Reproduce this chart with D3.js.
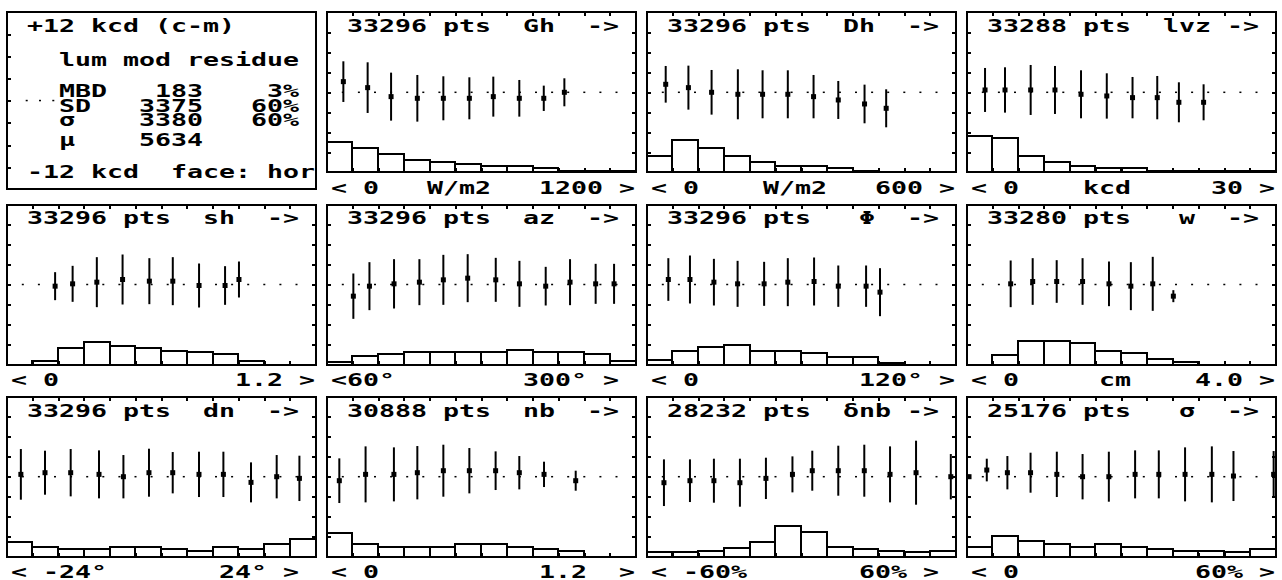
<!DOCTYPE html>
<html>
<head>
<meta charset="utf-8">
<script src="https://cdn.jsdelivr.net/npm/d3@7"></script>
<style>
  body { margin: 0; background: #fff; }
  svg { display: block; }
  text.mono {
    font-family: "DejaVu Sans Mono", monospace;
    font-weight: bold;
    font-size: 17px;
    white-space: pre;
    fill: #000;
  }
</style>
</head>
<body>
<svg id="chart" width="1282" height="580"></svg>
<script>
// ---- data ----
const varNames = ['Gh', 'Dh', 'lvz', 'sh', 'az', 'Φ', 'w', 'dn', 'nb', 'δnb', 'σ'];
const pointCounts = [33296, 33296, 33288, 33296, 33296, 33296, 33280, 33296, 30888, 28232, 25176];
const xDomains = [
  [0, 1200], [0, 600], [0, 30], [-0.1, 1.1], [60, 300], [0, 120],
  [-0.4, 4.4], [-24, 24], [0, 1.2], [-60, 60], [0, 60]
];
const axisLabels = [
  '< 0   W/m2   1200 >',
  '< 0    W/m2   600 >',
  '< 0    kcd     30 >',
  '< 0           1.2 >',
  '<60°        300° >',
  '< 0          120° >',
  '< 0     cm    4.0 >',
  '< -24°       24° >',
  '< 0          1.2  >',
  '< -60%       60% >',
  '< 0           60% >'
];

// mean x of the points in each bin (panel units)
const binX = [
  [64.7, 159, 250, 352, 453, 554, 647, 748, 843, 923],
  [36.9, 81, 126, 177, 225, 274, 324, 372, 423, 465],
  [1.78, 3.72, 6.21, 8.57, 11.1, 13.6, 16.1, 18.5, 20.6, 23.0],
  [0.088, 0.156, 0.25, 0.35, 0.454, 0.545, 0.647, 0.748, 0.802],
  [80.7, 93.2, 112.3, 132, 150.6, 169.5, 191.3, 209.7, 230.1, 249, 268.9, 283.2],
  [8.4, 16.8, 26.1, 35.3, 45.6, 54.8, 65, 74.4, 85.2, 90.6],
  [0.283, 0.625, 0.998, 1.40, 1.81, 2.15, 2.49, 2.81],
  [-21.8, -18.05, -14.06, -9.66, -5.87, -1.9, 1.79, 5.87, 9.66, 13.95, 17.94, 21.47],
  [0.049, 0.151, 0.261, 0.352, 0.453, 0.554, 0.656, 0.748, 0.844, 0.967],
  [-53.3, -43.2, -33.9, -23.8, -13.7, -3.4, 4.3, 14.4, 24.5, 34.5, 44.6, 58.1],
  [0.45, 3.9, 7.9, 12.4, 17.5, 22.5, 27.6, 32.7, 37.3, 42.4, 47.6, 51.8, 59.6]
];
// residue mean per bin, kcd
const residueMean = [
  [1.6, 0.7, -0.65, -0.9, -0.9, -0.9, -0.65, -0.9, -0.9, 0],
  [1.2, 0.7, 0, -0.3, -0.3, -0.3, -0.65, -1.15, -1.75, -2.4],
  [0.35, 0.35, 0.35, 0.35, -0.3, -0.55, -0.8, -0.8, -1.5, -1.5],
  [-0.25, 0.1, 0.35, 0.75, 0.5, 0.5, -0.15, -0.15, 0.75],
  [-1.75, -0.25, 0.1, 0.35, 0.7, 0.95, 0.7, 0.1, -0.25, 0.35, 0.1, 0.1],
  [0.75, 0.75, 0.35, 0.1, 0.1, 0.35, 0.45, -0.25, -0.25, -1.15],
  [0.1, 0.45, 0.45, 0.45, 0.1, -0.25, 0.1, -1.75],
  [0.35, 0.6, 0.6, 0.35, 0, 0.6, 0.6, 0.35, 0.35, -0.85, 0, -0.25],
  [-0.6, 0.35, 0.35, 0.6, 0.9, 0.9, 0.9, 0.6, 0.35, -0.6],
  [-0.9, -0.6, -0.6, -0.9, -0.25, 0.35, 0.9, 0.9, 0.9, 0.35, 0.6, 0],
  [0, 1.0, 0.6, 0.6, 0.35, 0, 0, 0.35, 0.35, 0.35, 0.35, 0.1, 0.35]
];
// residue standard deviation per bin, kcd
const residueSd = [
  [3.05, 3.8, 3.6, 3.5, 3.3, 3.15, 3.0, 2.75, 1.9, 2.1],
  [2.75, 3.3, 3.35, 3.75, 3.6, 3.6, 3.25, 2.85, 2.9, 2.85],
  [3.3, 3.4, 3.75, 3.6, 3.6, 3.4, 3.1, 3.25, 3.0, 2.7],
  [2.1, 2.7, 3.75, 3.75, 3.45, 3.6, 3.3, 2.9, 2.7],
  [3.4, 3.6, 3.7, 3.45, 3.75, 3.6, 3.3, 3.45, 2.9, 3.45, 3.0, 3.0],
  [3.2, 3.6, 3.5, 3.45, 3.3, 3.6, 3.6, 3.1, 3.1, 3.6],
  [3.5, 3.5, 3.2, 3.5, 3.35, 3.6, 4.05, 0.9],
  [3.8, 3.3, 3.55, 3.6, 3.25, 3.6, 3.1, 3.4, 3.4, 3.0, 3.25, 3.4],
  [3.35, 4.2, 4.05, 4.0, 3.9, 3.4, 2.9, 2.5, 1.9, 1.5],
  [3.5, 3.2, 3.3, 3.6, 3.1, 2.7, 3.0, 3.75, 3.9, 4.2, 4.8, 3.4],
  [0.3, 1.7, 2.5, 3.0, 3.4, 3.4, 3.75, 3.6, 3.6, 4.05, 4.2, 3.75, 3.5]
];
// share of points in each of the 12 bins, %
const binShare = [
  [7.5, 6, 4.5, 3, 2.5, 2.1, 1.5, 1.5, 1, 0.4, 0.25, 0.25],
  [4.2, 8.1, 6.2, 4.2, 2.5, 1.5, 1.5, 1, 0.4, 0.2, 0.2, 0.2],
  [9.1, 8.7, 4.2, 2.5, 1.6, 1, 1, 0.3, 0.3, 0.3, 0.3, 0.3],
  [0, 1, 4.1, 5.6, 4.75, 4.2, 3.5, 3.1, 2.7, 1, 0, 0],
  [0.6, 2.1, 2.7, 3.1, 3.1, 3.1, 3.1, 3.7, 3.1, 3.1, 2.7, 1],
  [1.25, 3.3, 4.3, 5, 3.3, 3.3, 2.9, 1.9, 1.9, 0.4, 0, 0],
  [0, 2.5, 5.8, 5.8, 5.4, 3.3, 2.9, 1.4, 0.6, 0, 0, 0],
  [3.6, 2.5, 1.9, 1.9, 2.5, 2.5, 1.9, 1.4, 2.5, 1.9, 3.2, 4.4],
  [6, 3.1, 2.5, 2.5, 2.5, 3.2, 3.2, 2.5, 1.9, 1.4, 0, 0],
  [1.1, 1.1, 1.5, 2.1, 3.6, 7.7, 6.1, 2.5, 1.9, 1.5, 1.1, 1.5],
  [2.5, 5.2, 4, 3.1, 2.5, 3.1, 2.5, 1.9, 1.5, 1.5, 1.1, 1.9]
];

// summary panel
const infoHead = ['+12 kcd (c-m)', 'lum mod residue'];
const statNames = ['MBD', 'SD', 'σ', 'μ'];
const statValues = [183, 3375, 3380, 5634];
const statShares = ['3%', '60%', '60%', ''];
const infoFoot = ['-12 kcd', 'face: hor'];

// ---- layout ----
const cell = 16;        // one character cell
const inset = 4.3;      // text start inside a box
const panelW = 309;
const chartH = 160;
const infoH = 177;
const colLeft = (c) => 6.7 + 320 * c;
const rowTop = (r) => 12.3 + 192.2 * r;

const svg = d3.select('#chart');
svg.append('rect').attr('width', 1282).attr('height', 580).attr('fill', '#fff');

function cellText(g, x0, y, str) {
  return g.append('text')
    .attr('class', 'mono')
    .attr('xml:space', 'preserve')
    .attr('x', x0)
    .attr('y', y)
    .attr('textLength', str.length * cell)
    .attr('lengthAdjust', 'spacingAndGlyphs')
    .text(str);
}

function box(g, left, top, h) {
  g.append('rect')
    .attr('x', left).attr('y', top)
    .attr('width', panelW).attr('height', h)
    .attr('fill', 'none').attr('stroke', '#000').attr('stroke-width', 2)
    .attr('shape-rendering', 'crispEdges');
}

function tickAxis(g, axis, tx, ty) {
  g.append('g')
    .attr('transform', `translate(${tx},${ty})`)
    .call(axis.tickFormat('').tickSizeOuter(0))
    .call((a) => a.select('.domain').remove())
    .call((a) => a.selectAll('line').attr('stroke-width', 2).attr('shape-rendering', 'crispEdges'));
}

const kcdTicks = [-9, -6, -3, 0, 3, 6, 9];

////////////////////////
//// SUMMARY PANEL /////
////////////////////////
{
  const left = colLeft(0), top = rowTop(0);
  const g = svg.append('g');
  const y = d3.scaleLinear().domain([-12, 12]).range([top + infoH, top]);
  box(g, left, top, infoH);
  tickAxis(g, d3.axisRight(y).tickValues(kcdTicks).tickSize(4), left, 0);

  [20, 33.3, 46.6].forEach((dx) => {
    g.append('rect').attr('x', left + dx - 1).attr('y', y(0) - 1)
      .attr('width', 2).attr('height', 1.5).attr('fill', '#000');
  });

  const x0 = left + inset;
  cellText(g, x0, top + 19.4, ' ' + infoHead[0]);
  cellText(g, x0, top + 53.4, '   ' + infoHead[1]);
  const statY = [84.4, 99.4, 113.7, 133.4];
  statNames.forEach((n, k) => {
    const line = '   ' + n.padEnd(5) + String(statValues[k]).padStart(4) + statShares[k].padStart(6);
    cellText(g, x0, top + statY[k], line.trimEnd());
  });
  cellText(g, x0, top + 166, ' ' + infoFoot[0] + '  ' + infoFoot[1]);
}

////////////////////////
//// CHART PANELS //////
////////////////////////
varNames.forEach((name, i) => {
  const p = i + 1;
  const left = colLeft(p % 4);
  const top = rowTop(Math.floor(p / 4));
  const bottom = top + chartH;
  const right = left + panelW;
  const [lo, hi] = xDomains[i];

  const x = d3.scaleLinear().domain(xDomains[i]).range([left, right]);
  const yRes = d3.scaleLinear().domain([-12, 12]).range([bottom, top]);
  const yHist = d3.scaleLinear().domain([0, 40]).range([bottom, top]);
  const edges = d3.range(13).map((k) => lo + ((hi - lo) * k) / 12);

  const g = svg.append('g');

  // histogram
  const bins = binShare[i].map((v, k) => ({ v, k })).filter((d) => d.v > 0);
  g.selectAll('rect.bin')
    .data(bins)
    .join('rect')
    .attr('class', 'bin')
    .attr('x', (d) => x(edges[d.k]))
    .attr('width', (d) => x(edges[d.k + 1]) - x(edges[d.k]))
    .attr('y', (d) => yHist(d.v))
    .attr('height', (d) => bottom - yHist(d.v))
    .attr('fill', '#fff')
    .attr('stroke', '#000')
    .attr('stroke-width', 2)
    .attr('shape-rendering', 'crispEdges');

  box(g, left, top, chartH);

  const inner = edges.slice(1, 12);
  tickAxis(g, d3.axisBottom(x).tickValues(inner).tickSize(4), 0, top);
  tickAxis(g, d3.axisTop(x).tickValues(inner).tickSize(4), 0, bottom);
  tickAxis(g, d3.axisRight(yRes).tickValues(kcdTicks).tickSize(4), left, 0);
  tickAxis(g, d3.axisLeft(yRes).tickValues(kcdTicks).tickSize(4), right, 0);

  // dotted zero line
  g.selectAll('rect.dot')
    .data(d3.range(1, 19))
    .join('rect')
    .attr('class', 'dot')
    .attr('x', (k) => left + k * 16.1 - 1)
    .attr('y', yRes(0) - 0.75)
    .attr('width', 2)
    .attr('height', 1.5)
    .attr('fill', '#000');

  // error bars
  const bars = binX[i].map((bx, k) => ({ bx, m: residueMean[i][k], s: residueSd[i][k] }));
  g.selectAll('line.err')
    .data(bars)
    .join('line')
    .attr('class', 'err')
    .attr('x1', (d) => x(d.bx))
    .attr('x2', (d) => x(d.bx))
    .attr('y1', (d) => yRes(d.m + d.s))
    .attr('y2', (d) => yRes(d.m - d.s))
    .attr('stroke', '#000')
    .attr('stroke-width', 2);
  g.selectAll('rect.mean')
    .data(bars)
    .join('rect')
    .attr('class', 'mean')
    .attr('x', (d) => x(d.bx) - 2.5)
    .attr('y', (d) => yRes(d.m) - 2.5)
    .attr('width', 5)
    .attr('height', 5)
    .attr('fill', '#000');

  // texts
  const field = name.length === 1 ? ' ' + name + ' ' : name.padEnd(3);
  const title = ' ' + pointCounts[i] + ' pts  ' + field + ' ->';
  cellText(g, left + inset, top + 19.8, title);
  cellText(g, left + inset, bottom + 21.3, axisLabels[i]);
});
</script>
</body>
</html>
